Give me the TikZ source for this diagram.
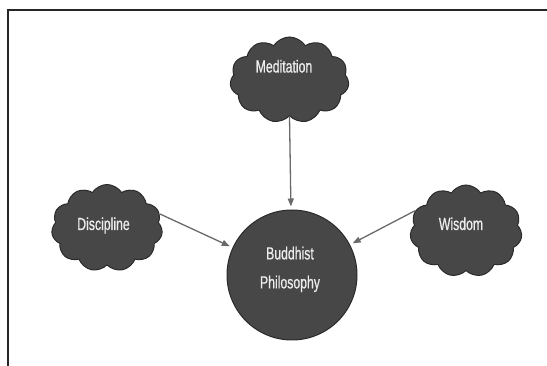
\documentclass[tikz,border=0pt]{standalone}
\usepackage{fontspec}
\newfontfamily\condfont[FakeStretch=0.7,FakeBold=0.6]{Liberation Sans}
\usetikzlibrary{shapes.symbols,arrows.meta}
\definecolor{blobfill}{HTML}{474747}
\definecolor{blobedge}{HTML}{2B2B2B}
\definecolor{labeltext}{HTML}{EDEDED}
\definecolor{linkgray}{HTML}{6A6A6A}
\tikzset{
  cloudbox/.style={cloud, cloud puffs=11, cloud puff arc=115, cloud ignores aspect,
    draw=blobedge, line width=1pt, fill=blobfill, inner sep=0pt},
  hubbox/.style={circle, draw=blobedge, line width=1pt, fill=blobfill,
    minimum size=130pt, inner sep=0pt},
  tag/.style={text=labeltext, font=\condfont\fontsize{17.5}{29}\selectfont,
    anchor=base, inner sep=0pt, align=center},
  link/.style={draw=linkgray, line width=1.3pt,
    -{Triangle[length=8pt,width=6pt]}, shorten >=3pt}
}
\begin{document}
\begin{tikzpicture}[x=1pt,y=-1pt]
  \useasboundingbox (0,0) rectangle (547,366);
  \clip (0,0) rectangle (547,366);
  \fill[white] (0,0) rectangle (547,366);
  % outer frame, running off the right and bottom edges
  \draw[line width=2.2pt, black!85] (8,10) rectangle (600,420);

  % central circle and the three clouds
  \node[hubbox] (bp) at (292,275) {};
  \node[cloudbox, minimum width=119pt, minimum height=86pt] (med) at (289.5,80) {};
  \node[cloudbox, minimum width=111pt, minimum height=87pt] (dis) at (107,228) {};
  \node[cloudbox, minimum width=112pt, minimum height=92pt] (wis) at (466,231) {};

  % labels
  \node[tag] (medt) at (284,72.5) {Meditation};
  \node[tag] (dist) at (103.5,230) {Discipline};
  \node[tag] (wist) at (461,230) {Wisdom};
  \node[tag, anchor=north] (bpt) at (290,246.5) {Buddhist\\Philosophy};

  % connectors into the circle
  \draw[link] (med.south) -- (bp);
  \draw[link] (dis.15) -- (bp);
  \draw[link] (wis.158) -- (bp);
\end{tikzpicture}
\end{document}
